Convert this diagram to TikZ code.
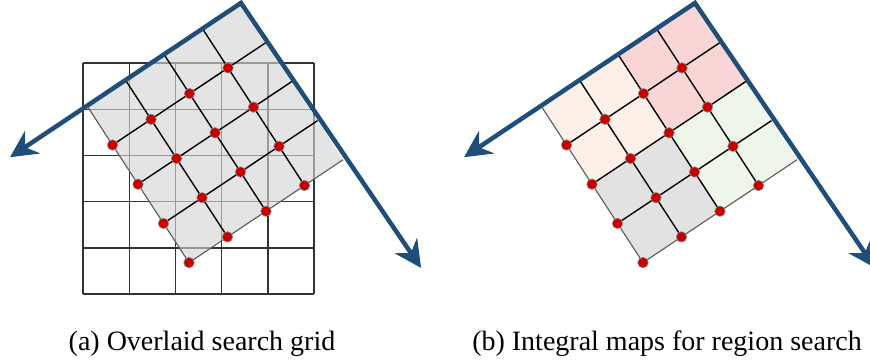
\documentclass[tikz,border=0pt]{standalone}
\usepackage{fontspec}
\setmainfont{Liberation Serif}
\usetikzlibrary{arrows.meta,calc}
\definecolor{axblue}{RGB}{31,78,121}
\definecolor{dotred}{RGB}{200,0,0}
\definecolor{cpink}{RGB}{249,213,213}
\definecolor{cpeach}{RGB}{252,240,233}
\definecolor{cgreen}{RGB}{238,245,233}
\definecolor{cgray}{RGB}{226,226,226}

\begin{document}
\begin{tikzpicture}[x=1pt,y=-1pt,
  sq/.style={draw=black!80,line width=1.4pt},
  rg/.style={draw=black,line width=1.4pt},
  rim/.style={draw=black!65,line width=1.1pt},
  rdot/.style={circle,fill=dotred,draw=black!45,line width=0.6pt,inner sep=0pt,minimum size=10.5pt},
  ax/.style={draw=axblue,line width=4.5pt,line join=miter,{Stealth[length=27pt,width=27pt,inset=9pt]}-{Stealth[length=27pt,width=27pt,inset=9pt]}},
  capt/.style={anchor=base,font=\fontsize{28}{32}\selectfont}]
\useasboundingbox (0,0) rectangle (870,364);
\coordinate (Ta) at (241,3);
\coordinate (Tb) at (695,3);
\foreach \k in {0,...,5}{
  \draw[sq] (83+46.2*\k,63) -- (83+46.2*\k,294);
  \draw[sq] (83,63+46.2*\k) -- (314,63+46.2*\k);
}
\begin{scope}[shift={(Ta)},x={(-38.5pt,-25.7pt)},y={(25.5pt,-39.2pt)}]
  \fill[black!17,fill opacity=0.64] (0,0) -- (4,0) -- (4,4) -- (0,4) -- cycle;
  \foreach \k in {1,2,3}{\draw[rg] (\k,0) -- (\k,4); \draw[rg] (0,\k) -- (4,\k);}
  \draw[rim] (4,0) -- (4,4) -- (0,4);
  \foreach \i in {1,...,4}\foreach \j in {1,...,4} \node[rdot] (a\i\j) at (\i,\j) {};
  \coordinate (aL) at (6,0);
  \coordinate (aR) at (-0.14,6.85);
  \draw[ax] (aL) -- (0,0) -- (aR);
\end{scope}
\begin{scope}[shift={(Tb)},x={(-38.5pt,-25.7pt)},y={(25.5pt,-39.2pt)}]
  \fill[cpink] (0,0) -- (2,0) -- (2,2) -- (0,2) -- cycle;
  \fill[cpeach] (2,0) -- (4,0) -- (4,2) -- (2,2) -- cycle;
  \fill[cgreen] (0,2) -- (2,2) -- (2,4) -- (0,4) -- cycle;
  \fill[cgray] (2,2) -- (4,2) -- (4,4) -- (2,4) -- cycle;
  \foreach \k in {1,2,3}{\draw[rg] (\k,0) -- (\k,4); \draw[rg] (0,\k) -- (4,\k);}
  \draw[rim] (4,0) -- (4,4) -- (0,4);
  \foreach \i in {1,...,4}\foreach \j in {1,...,4} \node[rdot] (b\i\j) at (\i,\j) {};
  \coordinate (bL) at (6,0);
  \coordinate (bR) at (-0.14,6.85);
  \draw[ax] (bL) -- (0,0) -- (bR);
\end{scope}
\node[capt] (capa) at (202,350) {(a) Overlaid search grid};
\node[capt] (capb) at (667,350) {(b) Integral maps for region search};
\end{tikzpicture}
\end{document}
